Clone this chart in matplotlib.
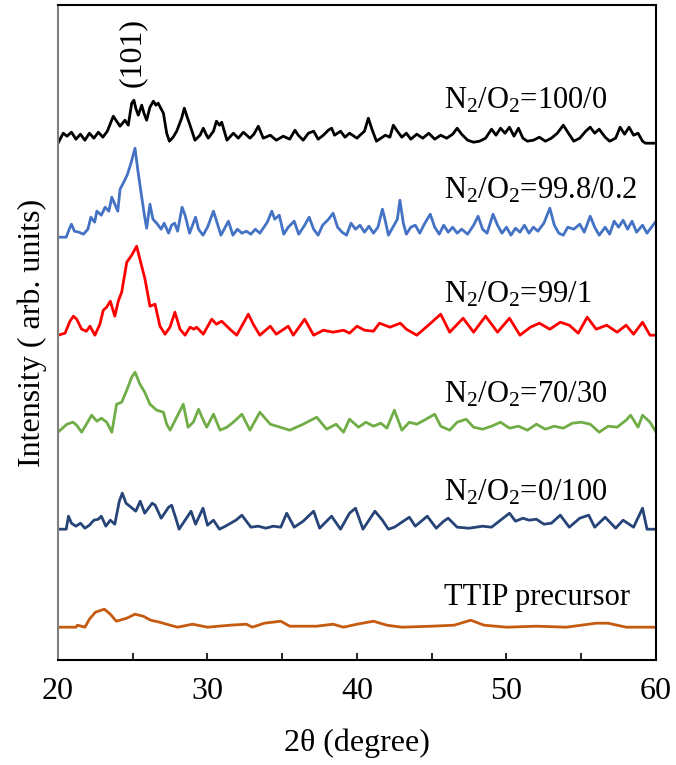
import matplotlib
matplotlib.use("Agg")
import matplotlib.pyplot as plt
import numpy as np

plt.rcParams['font.family'] = ['Liberation Serif', 'DejaVu Serif']
plt.rcParams['mathtext.fontset'] = 'custom'
plt.rcParams['mathtext.rm'] = 'Liberation Serif'
plt.rcParams['mathtext.it'] = 'Liberation Serif:italic'

# 2theta / intensity (arb., counted from each trace's own baseline)
x_100_0 = [20.0, 20.35, 20.6, 20.9, 21.2, 21.5, 21.8, 22.1, 22.4, 22.7, 23.0, 23.3, 23.7, 23.92,
           24.15, 24.48, 24.7, 24.93, 25.08, 25.2, 25.37, 25.6, 25.75, 25.93, 26.15, 26.38, 26.55,
           26.7, 27.05, 27.27, 27.45, 27.7, 27.94, 28.27, 28.45, 28.6, 28.83, 29.16, 29.5, 29.72,
           29.9, 30.05, 30.4, 30.6, 30.8, 30.95, 31.3, 31.73, 32.06, 32.4, 32.84, 33.1, 33.4, 33.73,
           34.2, 34.6, 35.07, 35.5, 35.85, 36.07, 36.4, 36.75, 37.1, 37.4, 37.75, 38.08, 38.3, 38.5,
           38.9, 39.2, 39.5, 40.0, 40.2, 40.5, 40.76, 41.0, 41.3, 41.6, 41.9, 42.2, 42.43, 42.7, 43.0,
           43.3, 43.6, 44.0, 44.4, 44.8, 45.2, 45.6, 46.0, 46.4, 46.7, 47.0, 47.4, 47.8, 48.2, 48.6,
           49.0, 49.3, 49.6, 49.9, 50.2, 50.5, 50.8, 51.1, 51.4, 51.8, 52.2, 52.6, 53.0, 53.4, 53.8,
           54.1, 54.5, 54.9, 55.3, 55.6, 55.9, 56.2, 56.6, 56.9, 57.3, 57.6, 57.9, 58.2, 58.5, 58.8,
           59.1, 59.3, 60.0]
y_100_0 = [0, 10, 7, 11, 4, 9, 3, 10, 5, 11, 6, 12, 27, 22,
           17, 23, 18, 40, 43, 35, 28, 38, 30, 23, 36, 42, 38,
           40, 30, 10, 2, 6, 12, 25, 35, 28, 18, 3, 8, 15,
           9, 5, 12, 22, 18, 21, 3, 10, 5, 11, 5, 9, 17, 5,
           8, 3, 7, 4, 13, 8, 3, 10, 12, 4, 8, 13, 15, 8,
           12, 6, 10, 5, 8, 12, 25, 14, 2, 5, 8, 6, 18, 12, 6,
           10, 4, 9, 5, 10, 4, 8, 5, 9, 15, 9, 3, 1, 2, 5,
           14, 8, 15, 10, 16, 7, 15, 5, 2, 3, 6, 2, 5, 10, 18,
           11, 2, 5, 12, 16, 10, 14, 6, 2, 5, 16, 9, 16, 8, 10,
           2, 0, 0]

x_998_02 = [20.0, 20.55, 20.75, 20.9, 21.1, 21.4, 21.7, 22.0, 22.2, 22.45, 22.6, 22.9, 23.15, 23.4,
            23.6, 23.8, 24.0, 24.15, 24.4, 24.65, 24.9, 25.15, 25.35, 25.6, 25.8, 25.93, 26.15, 26.35,
            26.6, 26.9, 27.1, 27.4, 27.6, 27.8, 28.0, 28.3, 28.5, 28.8, 29.2, 29.4, 29.7, 30.0, 30.4,
            30.65, 30.9, 31.4, 31.7, 32.0, 32.3, 32.6, 32.9, 33.2, 33.5, 34.0, 34.3, 34.5, 34.8, 35.1,
            35.4, 35.8, 36.1, 36.5, 36.8, 37.1, 37.4, 37.7, 38.1, 38.4, 38.7, 39.0, 39.3, 39.6, 39.9,
            40.2, 40.5, 40.8, 41.1, 41.4, 41.7, 41.9, 42.1, 42.4, 42.7, 42.87, 43.1, 43.3, 43.6, 43.9,
            44.2, 44.5, 44.9, 45.2, 45.5, 45.8, 46.1, 46.4, 46.7, 47.0, 47.4, 47.8, 48.1, 48.4, 48.7,
            49.1, 49.4, 49.7, 50.0, 50.3, 50.6, 50.9, 51.2, 51.5, 51.8, 52.1, 52.5, 52.9, 53.2, 53.5,
            53.8, 54.1, 54.5, 54.9, 55.2, 55.6, 55.9, 56.2, 56.6, 56.9, 57.2, 57.5, 57.8, 58.1, 58.4,
            58.7, 59.1, 59.4, 59.7, 60.0]
y_998_02 = [0, 0, 8, 13, 6, 5, 3, 8, 20, 15, 26, 22, 30, 26,
            40, 33, 26, 48, 55, 63, 75, 89, 66, 40, 20, 9, 33, 18,
            14, 8, 14, 4, 12, 14, 6, 30, 22, 4, 20, 8, 2, 10, 26,
            14, 2, 16, 2, 8, 4, 6, 3, 8, 4, 15, 26, 18, 22, 3,
            10, 16, 3, 12, 20, 8, 2, 12, 18, 24, 10, 5, 2, 14, 8,
            12, 5, 11, 4, 10, 28, 16, 2, 10, 18, 37, 14, 3, 10, 12,
            4, 13, 23, 10, 3, 12, 5, 10, 4, 8, 3, 12, 21, 8, 4,
            23, 12, 4, 10, 2, 9, 5, 12, 4, 10, 6, 14, 29, 12, 4,
            2, 10, 8, 13, 5, 21, 10, 2, 10, 3, 16, 10, 17, 8, 16,
            5, 12, 4, 10, 16]

x_99_1 = [20.0, 20.47, 20.8, 21.03, 21.25, 21.58, 21.9, 22.14, 22.47, 22.8, 23.03, 23.25, 23.5, 23.8,
          24.03, 24.26, 24.6, 24.93, 25.26, 25.48, 25.82, 26.15, 26.49, 26.82, 27.16, 27.49, 27.82,
          28.16, 28.5, 28.83, 29.1, 29.27, 29.72, 30.28, 30.6, 30.95, 31.5, 31.95, 32.4, 32.73, 33.06,
          33.5, 34.2, 34.6, 35.4, 35.74, 36.5, 37.1, 37.75, 38.4, 39.1, 39.5, 40.0, 40.5, 41.1, 41.5,
          42.2, 42.9, 43.3, 44.0, 44.7, 45.6, 46.2, 47.1, 47.8, 48.6, 49.4, 50.2, 50.9, 51.6, 52.2,
          52.9, 53.6, 54.2, 54.8, 55.4, 56.0, 56.7, 57.4, 58.0, 58.5, 59.1, 59.6, 60.0]
y_99_1 = [0, 2, 14, 19, 16, 6, 4, 9, 0, 11, 25, 28, 34, 19,
          34, 43, 73, 80, 89, 76, 56, 29, 31, 9, 1, 8, 23,
          6, 0, 8, 6, 8, 1, 16, 11, 14, 6, 0, 12, 21, 11,
          0, 9, 1, 9, 0, 16, 0, 5, 3, 5, 2, 9, 5, 4, 12,
          8, 12, 6, 0, 9, 21, 3, 17, 3, 19, 3, 17, 0, 8, 12,
          6, 13, 10, 2, 18, 6, 10, 3, 10, 1, 13, 0, 0]

x_70_30 = [20.0, 20.6, 21.0, 21.25, 21.58, 21.9, 22.25, 22.6, 22.9, 23.26, 23.6, 23.92, 24.26, 24.6,
           24.93, 25.15, 25.48, 25.8, 26.15, 26.6, 27.05, 27.27, 27.5, 27.94, 28.38, 28.7, 29.05,
           29.4, 29.72, 29.95, 30.4, 30.84, 31.3, 31.73, 32.3, 32.84, 33.5, 34.2, 34.85, 35.5, 36.4,
           37.3, 37.97, 38.6, 39.1, 39.5, 40.1, 40.6, 41.1, 41.6, 42.0, 42.5, 43.0, 43.5, 44.0, 44.5,
           45.2, 45.6, 46.2, 46.7, 47.3, 47.8, 48.4, 49.0, 49.6, 50.2, 50.8, 51.4, 52.0, 52.6, 53.2,
           53.8, 54.4, 55.0, 55.6, 56.2, 56.8, 57.4, 58.0, 58.3, 58.8, 59.1, 59.6, 60.0]
y_70_30 = [0, 8, 10, 7, 0, 8, 17, 11, 14, 10, 0, 28, 30, 42,
           55, 60, 48, 40, 28, 22, 20, 8, 2, 15, 28, 5, 10,
           23, 12, 5, 18, 2, 5, 10, 18, 2, 20, 8, 5, 2, 8,
           15, 3, 8, 0, 13, 5, 10, 6, 9, 4, 22, 2, 10, 8, 12,
           18, 6, 2, 10, 13, 5, 3, 6, 10, 4, 6, 2, 8, 3, 6,
           4, 9, 10, 8, 0, 6, 5, 12, 17, 5, 17, 10, 0]

x_0_100 = [20.0, 20.55, 20.7, 20.9, 21.2, 21.5, 21.8, 22.1, 22.4, 22.7, 22.9, 23.2, 23.5, 23.8, 24.1,
           24.3, 24.55, 24.8, 25.2, 25.5, 25.8, 26.3, 26.5, 26.9, 27.4, 27.6, 27.9, 28.1, 28.5, 28.9,
           29.2, 29.7, 30.0, 30.4, 30.8, 31.2, 31.9, 32.3, 32.6, 32.9, 33.4, 33.9, 34.4, 34.9, 35.3,
           35.8, 36.4, 37.1, 37.5, 38.3, 38.9, 39.5, 39.9, 40.4, 41.2, 41.7, 42.1, 42.5, 43.5, 43.9,
           44.7, 45.3, 45.8, 46.1, 46.7, 47.5, 48.4, 49.0, 49.6, 50.2, 50.6, 51.1, 51.5, 52.0, 52.5,
           53.0, 53.6, 54.2, 54.9, 55.5, 55.9, 56.6, 57.3, 57.8, 58.5, 59.1, 59.4, 60.0]
y_0_100 = [0, 0, 13, 6, 3, 6, 1, 4, 9, 10, 13, 3, 9, 5, 28,
           36, 26, 23, 18, 28, 16, 26, 24, 11, 22, 24, 10, 0, 9, 18,
           5, 21, 4, 9, 0, 3, 9, 14, 8, 2, 3, 1, 3, 2, 16,
           2, 8, 18, 1, 13, 0, 16, 21, 0, 18, 9, 0, 2, 12, 3,
           13, 1, 8, 11, 2, 1, 3, 2, 9, 16, 8, 11, 9, 10, 5,
           6, 14, 2, 11, 14, 2, 12, 1, 9, 2, 21, 0, 0]

x_ttip = [20.0, 21.2, 21.3, 21.8, 22.1, 22.5, 23.1, 23.5, 23.9, 24.6, 25.15, 25.7, 26.2, 26.8, 27.5,
          28.0, 29.0, 30.0, 31.5, 32.6, 33.0, 33.8, 34.9, 35.5, 37.3, 38.4, 39.1, 40.0, 41.1, 42.0,
          43.0, 45.0, 46.5, 47.6, 48.5, 50.0, 52.0, 54.0, 56.0, 56.8, 58.0, 60.0]
y_ttip = [0, 0, 2, 0, 8, 15, 18, 13, 6, 9, 13, 11, 7, 5, 2,
          0, 3, 0, 2, 3, 0, 4, 6, 1, 1, 3, 0, 3, 6, 2,
          0, 1, 2, 7, 2, 0, 1, 0, 4, 4, 0, 0]

labels = ['N$_2$/O$_2$=100/0', 'N$_2$/O$_2$=99.8/0.2', 'N$_2$/O$_2$=99/1',
          'N$_2$/O$_2$=70/30', 'N$_2$/O$_2$=0/100', 'TTIP precursor']
xs = [x_100_0, x_998_02, x_99_1, x_70_30, x_0_100, x_ttip]
ys = [y_100_0, y_998_02, y_99_1, y_70_30, y_0_100, y_ttip]
colors = ['#000000', '#4472C4', '#FF0000', '#70AD47', '#264478', '#C55A11']

# vertical stacking of the traces and label baselines
offsets = [517, 423, 325, 228, 131, 33]
label_y = [552, 462, 358, 258, 160, 55]

fig = plt.figure(figsize=(6.76, 7.65), dpi=100)
ax = fig.add_axes([0.0858, 0.137, 0.8846, 0.8562])

for x, y, c, off in zip(xs, ys, colors, offsets):
    ax.plot(x, np.array(y) + off, color=c, linewidth=2.0)

for lab, ly in zip(labels, label_y):
    ax.text(45.85, ly, lab, fontsize=22, va='baseline', ha='left')

ax.text(25.0, 608, '(101)', fontsize=23, rotation=90, ha='center', va='center')

ax.set_xlim(20, 60)
ax.set_ylim(0, 655)
ax.set_xticks([20, 30, 40, 50, 60])
ax.set_xticks([25, 35, 45, 55], minor=True)
ax.tick_params(axis='x', which='both', direction='in', length=5, width=1.2,
               labelsize=23, pad=12)
ax.set_yticks([])
for s in ax.spines.values():
    s.set_linewidth(1.5)
ax.spines['left'].set_color('#7f7f7f')

ax.set_xlabel('2θ (degree)', fontsize=23, labelpad=16)
ax.set_ylabel('Intensity ( arb. units)', fontsize=23, labelpad=8)

plt.savefig('out.png', dpi=100)
